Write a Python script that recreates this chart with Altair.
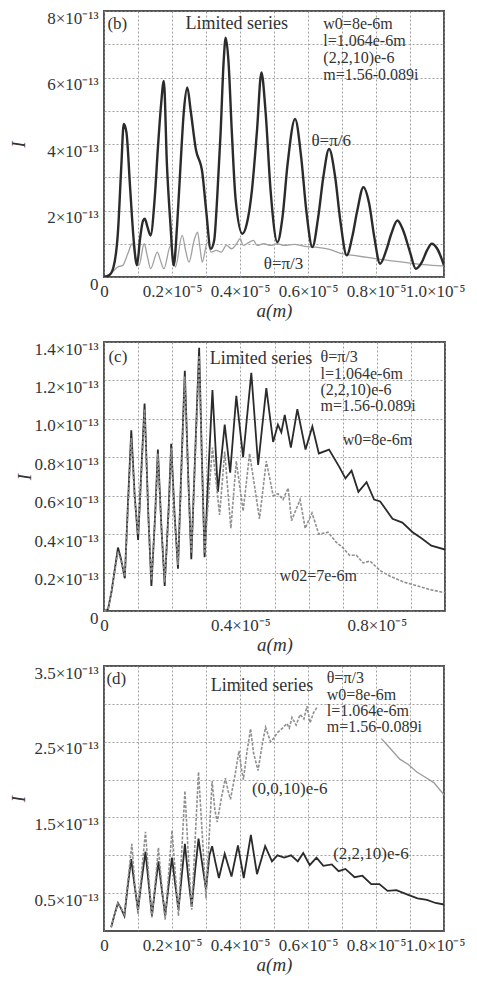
import altair as alt
import pandas as pd

FONT = "Liberation Serif"
DARK = "#2b2b2b"
GRAY = "#8f8f8f"

# ---------------- panel (b) ----------------
b_pi6_x = [0, 0.015, 0.028, 0.041, 0.051, 0.058, 0.066, 0.077, 0.087, 0.097, 0.106, 0.115, 0.12, 0.128, 0.137,
           0.149, 0.159, 0.168, 0.176, 0.185, 0.195, 0.205, 0.215, 0.225, 0.235, 0.245, 0.255, 0.27, 0.289, 0.30,
           0.314, 0.324, 0.333, 0.343, 0.352, 0.358, 0.366, 0.376, 0.387, 0.407, 0.42, 0.435, 0.45, 0.463, 0.475,
           0.49, 0.51, 0.525, 0.54, 0.562, 0.58, 0.595, 0.613, 0.63, 0.645, 0.662, 0.68, 0.695, 0.714, 0.73, 0.745,
           0.763, 0.78, 0.795, 0.812, 0.83, 0.845, 0.863, 0.88, 0.9, 0.917, 0.935, 0.95, 0.964, 0.98, 1.0]
b_pi6_y = [0, 0.05, 0.3, 1.35, 3.35, 4.6, 4.35, 2.65, 1.15, 0.35, 1.15, 1.7, 1.75, 1.5, 1.25,
           2.35, 3.95, 5.2, 5.9, 3.4, 1.65, 0.35, 1.55, 3.35, 5.0, 5.7, 5.0, 3.85, 3.15, 2.05,
           0.85, 1.1, 2.4, 4.35, 6.5, 7.2, 6.5, 4.35, 2.35, 1.3, 1.6, 2.6, 4.4, 6.15, 5.0,
           2.6, 1.05, 1.8, 3.4, 4.75, 3.6, 2.0, 0.9, 1.8, 3.0, 3.85, 3.0, 1.7, 0.65, 1.2, 2.0,
           2.7, 2.2, 1.2, 0.4, 0.8, 1.3, 1.7, 1.4, 0.75, 0.25, 0.45, 0.8, 1.0, 0.85, 0.35]

b_pi3_x = [0, 0.02, 0.04, 0.055, 0.07, 0.083, 0.093, 0.103, 0.118, 0.128, 0.137, 0.157, 0.166, 0.176, 0.196,
           0.204, 0.21, 0.23, 0.24, 0.25, 0.265, 0.275, 0.282, 0.289, 0.304, 0.315, 0.33, 0.345, 0.36, 0.375,
           0.39, 0.40, 0.41, 0.42, 0.44, 0.45, 0.47, 0.49, 0.51, 0.53, 0.56, 0.59, 0.62, 0.66, 0.70, 0.74,
           0.78, 0.82, 0.86, 0.90, 0.94, 1.0]
b_pi3_y = [0, 0.1, 0.3, 0.35, 0.7, 1.0, 0.6, 0.35, 1.0, 0.6, 0.25, 0.75, 0.5, 0.25, 0.95,
           0.55, 0.3, 1.25, 0.8, 0.45, 1.1, 1.35, 0.9, 0.45, 1.05, 0.75, 0.8, 0.75, 0.95, 0.85,
           1.0, 1.15, 0.95, 1.0, 1.1, 0.95, 1.0, 0.95, 1.0, 0.95, 0.98, 0.92, 0.9, 0.84, 0.7, 0.64,
           0.58, 0.52, 0.47, 0.42, 0.37, 0.33]

b_note_text = ["(b)", "Limited series", "w0=8e-6m", "l=1.064e-6m", "(2,2,10)e-6", "m=1.56-0.089i",
               "θ=π/6", "θ=π/3"]
b_note_x = [0.01, 0.24, 0.645, 0.645, 0.645, 0.645, 0.61, 0.47]
b_note_y = [7.6, 7.6, 7.6, 7.1, 6.58, 6.07, 4.1, 0.4]
b_note_size = [17, 18, 16, 16, 16, 16, 17, 17]

# ---------------- panel (c) ----------------
c_w8_x = [0, 0.012, 0.022, 0.032, 0.041, 0.05, 0.061, 0.07, 0.08, 0.09, 0.10, 0.11, 0.119, 0.13, 0.139,
          0.15, 0.158, 0.168, 0.178, 0.19, 0.197, 0.207, 0.217, 0.227, 0.237, 0.247, 0.256, 0.268, 0.279,
          0.287, 0.295, 0.307, 0.318, 0.334, 0.354, 0.37, 0.388, 0.408, 0.432, 0.452, 0.476, 0.496, 0.51,
          0.52, 0.53, 0.548, 0.567, 0.591, 0.611, 0.63, 0.66, 0.69, 0.708, 0.726, 0.746, 0.77, 0.792, 0.81,
          0.846, 0.875, 0.905, 0.93, 0.96, 1.0]
c_w8_y = [0, 0.01, 0.1, 0.22, 0.33, 0.27, 0.17, 0.55, 0.94, 0.6, 0.37, 0.75, 1.08, 0.5, 0.13,
          0.5, 0.84, 0.45, 0.13, 0.55, 0.87, 0.5, 0.22, 0.75, 1.25, 0.7, 0.27, 0.85, 1.37,
          0.8, 0.28, 0.75, 1.15, 0.62, 0.97, 0.72, 1.12, 0.8, 1.24, 0.76, 1.16, 0.88, 0.97,
          0.93, 1.02, 0.85, 1.05, 0.84, 0.96, 0.82, 0.84, 0.75, 0.69, 0.73, 0.62, 0.67, 0.58, 0.57,
          0.48, 0.46, 0.41, 0.38, 0.34, 0.32]

c_w7_x = [0, 0.012, 0.022, 0.032, 0.041, 0.05, 0.061, 0.07, 0.08, 0.09, 0.10, 0.11, 0.119, 0.13, 0.139,
          0.15, 0.158, 0.168, 0.178, 0.19, 0.197, 0.207, 0.217, 0.227, 0.237, 0.247, 0.256, 0.268, 0.279,
          0.287, 0.295, 0.307, 0.318, 0.339, 0.354, 0.372, 0.388, 0.408, 0.427, 0.456, 0.476, 0.496, 0.51,
          0.525, 0.54, 0.55, 0.575, 0.59, 0.61, 0.63, 0.657, 0.68, 0.70, 0.72, 0.74, 0.76, 0.78, 0.81,
          0.84, 0.88, 0.92, 0.96, 1.0]
c_w7_y = [0, 0.01, 0.1, 0.21, 0.31, 0.26, 0.18, 0.52, 0.9, 0.58, 0.4, 0.72, 1.05, 0.5, 0.16,
          0.48, 0.82, 0.44, 0.15, 0.52, 0.85, 0.48, 0.24, 0.72, 1.22, 0.68, 0.3, 0.82, 1.33,
          0.78, 0.3, 0.6, 0.85, 0.5, 0.83, 0.43, 0.78, 0.52, 0.82, 0.48, 0.78, 0.6, 0.61,
          0.58, 0.64, 0.47, 0.58, 0.43, 0.51, 0.40, 0.41, 0.36, 0.33, 0.29, 0.29, 0.25, 0.26, 0.21,
          0.18, 0.15, 0.13, 0.11, 0.095]

c_note_text = ["(c)", "Limited series", "θ=π/3", "l=1.064e-6m", "(2,2,10)e-6", "m=1.56-0.089i",
               "w0=8e-6m", "w02=7e-6m"]
c_note_x = [0.013, 0.31, 0.635, 0.635, 0.635, 0.635, 0.70, 0.515]
c_note_y = [1.32, 1.31, 1.32, 1.235, 1.15, 1.065, 0.89, 0.18]
c_note_size = [17, 18, 16, 16, 16, 16, 16, 16]

# ---------------- panel (d) ----------------
d_2210_x = [0.021, 0.03, 0.041, 0.05, 0.06, 0.07, 0.08, 0.09, 0.10, 0.11, 0.122, 0.132, 0.141, 0.15, 0.16,
            0.17, 0.18, 0.19, 0.20, 0.21, 0.219, 0.228, 0.238, 0.248, 0.258, 0.268, 0.278, 0.29, 0.30, 0.31,
            0.318, 0.328, 0.338, 0.355, 0.375, 0.394, 0.411, 0.432, 0.45, 0.474, 0.494, 0.51, 0.53, 0.55,
            0.57, 0.586, 0.605, 0.625, 0.645, 0.67, 0.69, 0.71, 0.737, 0.76, 0.786, 0.81, 0.834, 0.86,
            0.893, 0.922, 0.95, 0.975, 1.0]
d_2210_y = [0.05, 0.2, 0.37, 0.3, 0.2, 0.6, 0.95, 0.6, 0.28, 0.65, 1.05, 0.6, 0.2, 0.55, 0.92,
            0.55, 0.2, 0.6, 0.97, 0.6, 0.28, 0.7, 1.15, 0.7, 0.32, 0.8, 1.22, 0.85, 0.55, 1.0,
            1.12, 0.9, 0.7, 1.02, 0.72, 1.13, 0.7, 1.27, 0.75, 1.12, 0.92, 1.0, 0.97, 1.0,
            0.92, 1.03, 0.87, 0.97, 0.86, 0.88, 0.79, 0.82, 0.71, 0.73, 0.62, 0.62, 0.53, 0.54,
            0.48, 0.43, 0.41, 0.37, 0.35]

d_0010_x = [0.021, 0.03, 0.041, 0.05, 0.06, 0.07, 0.082, 0.09, 0.10, 0.11, 0.122, 0.132, 0.141, 0.15, 0.16,
            0.17, 0.18, 0.19, 0.20, 0.21, 0.219, 0.228, 0.238, 0.248, 0.258, 0.268, 0.278, 0.29, 0.30, 0.31,
            0.318, 0.326, 0.333, 0.345, 0.357, 0.365, 0.372, 0.385, 0.397, 0.404, 0.41, 0.42, 0.431, 0.44,
            0.453, 0.465, 0.475, 0.482, 0.49, 0.50, 0.51, 0.525, 0.538, 0.545, 0.553, 0.565, 0.577, 0.588,
            0.597, 0.606, 0.616, 0.626]
d_0010_y = [0.05, 0.2, 0.37, 0.3, 0.22, 0.65, 1.15, 0.65, 0.22, 0.75, 1.31, 0.7, 0.18, 0.6, 1.1,
            0.6, 0.15, 0.75, 1.33, 0.75, 0.2, 1.0, 1.85, 1.0, 0.28, 1.2, 2.1, 1.2, 0.43, 1.3,
            1.98, 1.6, 1.44, 1.75, 2.02, 1.85, 1.74, 2.05, 2.38, 2.15, 2.0, 2.35, 2.67, 2.35,
            2.12, 2.45, 2.69, 2.6, 2.5, 2.55, 2.62, 2.68, 2.74, 2.68, 2.82, 2.72, 2.86, 2.8,
            2.97, 2.75, 2.88, 2.95]
# continuation of the (0,0,10)e-6 curve below the legend text
d_0010b_x = [0.816, 0.84, 0.87, 0.895, 0.92, 0.945, 0.97, 1.0]
d_0010b_y = [2.54, 2.42, 2.27, 2.2, 2.1, 2.03, 1.96, 1.8]

d_note_text = ["(d)", "Limited series", "θ=π/3", "w0=8e-6m", "l=1.064e-6m", "m=1.56-0.089i",
               "(0,0,10)e-6", "(2,2,10)e-6"]
d_note_x = [0.007, 0.314, 0.655, 0.655, 0.655, 0.655, 0.435, 0.674]
d_note_y = [3.33, 3.24, 3.34, 3.12, 2.9, 2.69, 1.87, 1.02]
d_note_size = [17, 18, 16, 16, 16, 16, 17, 17]

# ---------------- helpers ----------------
x_ticks = [round(i * 0.1, 1) for i in range(11)]
SUP13 = "×10⁻¹³"
SUP5 = "×10⁻⁵"

x_expr_every2 = ("datum.value == 0 ? '0' : (round(datum.value*10) % 2 == 0 ? "
                 "format(datum.value, '.1f') + '" + SUP5 + "' : '')")
x_expr_every4 = ("datum.value == 0 ? '0' : (round(datum.value*10) % 4 == 0 ? "
                 "format(datum.value, '.1f') + '" + SUP5 + "' : '')")


def make_x(expr, last_shift=0):
    return alt.X("x:Q", scale=alt.Scale(domain=[0, 1], nice=False, zero=False),
                 axis=alt.Axis(values=x_ticks, labelExpr=expr, title="a(m)",
                               titleFontStyle="italic", titleFontSize=19, titlePadding=2,
                               labelPadding=6, labelOverlap=False, labelFlush=False,
                               labelOffset={"expr": "datum.value == 1 ? %d : 0" % last_shift}))


def make_y(domain, values, expr, title_x, h):
    return alt.Y("y:Q", scale=alt.Scale(domain=domain, nice=False, zero=False),
                 axis=alt.Axis(values=values, labelExpr=expr, title="I",
                               titleFontStyle="italic", titleFontSize=19,
                               titleX=title_x, titleY=h / 2, labelPadding=6, labelOverlap=False,
                               labelFlush=False, labelOffset=7))


def line(xs, ys, color, width, dash=None, interp="linear"):
    df = pd.DataFrame({"x": xs, "y": ys})
    kw = dict(color=color, strokeWidth=width, interpolate=interp, clip=True)
    if dash:
        kw["strokeDash"] = dash
    return alt.Chart(df).mark_line(**kw)


def notes(xs, ys, texts, sizes):
    df = pd.DataFrame({"x": xs, "y": ys, "t": texts, "s": sizes})
    return alt.Chart(df).mark_text(align="left", baseline="middle", font=FONT,
                                   color="#333333").encode(text="t:N", size=alt.Size("s:Q", scale=None))


def panel(layers, X, Y, w, h):
    enc = [l.encode(x=X, y=Y) for l in layers]
    return alt.layer(*enc).properties(width=w, height=h)


# panel b
bw, bh = 340, 266
bX = make_x(x_expr_every2, last_shift=-9)
bY = make_y([0, 8], list(range(9)),
            "datum.value == 0 ? '0' : (datum.value % 2 == 0 ? format(datum.value, 'd') + '" + SUP13 + "' : '')",
            -76, bh)
pb = panel([line(b_pi3_x, b_pi3_y, "#a0a0a0", 1.3, interp="monotone"),
            line(b_pi6_x, b_pi6_y, DARK, 2.4, interp="monotone"),
            notes(b_note_x, b_note_y, b_note_text, b_note_size)], bX, bY, bw, bh)

# panel c
cw, ch = 341, 269
cX = make_x(x_expr_every4)
cY = make_y([0, 1.4], [round(i * 0.2, 1) for i in range(8)],
            "datum.value == 0 ? '0' : format(datum.value, '.1f') + '" + SUP13 + "'",
            -70, ch)
pc = panel([line(c_w8_x, c_w8_y, DARK, 1.8),
            line(c_w7_x, c_w7_y, GRAY, 1.6, dash=[3, 1.5]),
            notes(c_note_x, c_note_y, c_note_text, c_note_size)], cX, cY, cw, ch)

# panel d
dw, dh = 340, 265
dX = make_x(x_expr_every2, last_shift=-9)
dY = make_y([0, 3.5], [round(i * 0.5, 1) for i in range(1, 8)],
            "round(datum.value*10) % 10 == 5 ? format(datum.value, '.1f') + '" + SUP13 + "' : ''",
            -76, dh)
pd_ = panel([line(d_2210_x, d_2210_y, DARK, 1.8),
             line(d_0010_x, d_0010_y, GRAY, 1.6, dash=[3, 1.5]),
             line(d_0010b_x, d_0010b_y, "#9a9a9a", 1.3),
             notes(d_note_x, d_note_y, d_note_text, d_note_size)], dX, dY, dw, dh)

inner = alt.vconcat(pb, pc, spacing=18)
chart = alt.vconcat(inner, pd_, spacing=8).properties(
    padding={"left": 0, "top": 0, "right": 0, "bottom": 0},
    background="white"
).configure_view(
    stroke="#555555", strokeWidth=2
).configure_axis(
    labelFont=FONT, titleFont=FONT, labelFontSize=17, labelColor="#333333", titleColor="#333333",
    grid=True, gridDash=[2, 2], gridColor="#8a8a8a", gridOpacity=0.8, gridWidth=1,
    domain=False, ticks=False, titleFontWeight="normal"
)

chart.save("out.html", embed_options={"renderer": "svg", "actions": False})
